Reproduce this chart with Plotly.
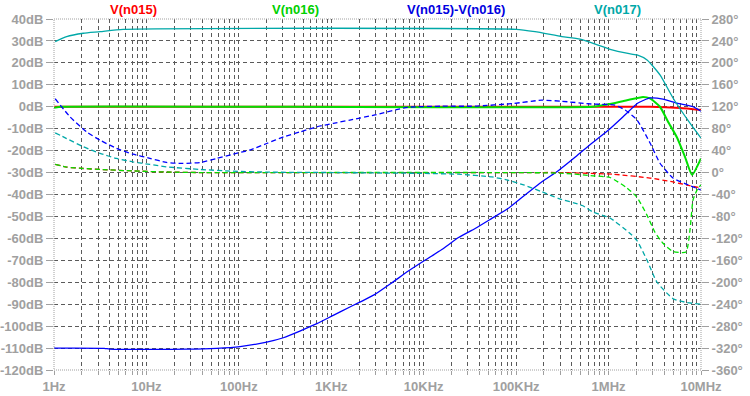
import plotly.graph_objects as go

# ---------------- data ----------------
# V(n015)  red
n015_mag_f = [1, 3.38e5, 2.81e6, 5.93e6, 1e7]
n015_mag = [0, 0, 0, -0.6, -1.5]
n015_ph_f = [1.03, 1.37, 2.08, 3.15, 7.16, 16.5, 38, 1.37e5, 3.0e5, 1.12e6, 2.81e6, 4.98e6, 7.05e6, 1e7]
n015_ph = [15, 10, 7.4, 5.7, 3, 1, 0, 0, 0, -3, -10, -17, -23, -28]

# V(n016)  green
n016_mag_f = [1, 1.22, 6.78e5, 9.62e5, 1.58e6, 2.36e6, 2.81e6, 3.6e6, 4.4e6, 5.5e6, 6.71e6, 8.0e6, 1e7]
n016_mag = [-0.5, 0, 0, 1, 3, 4.5, 3.8, 0, -6.8, -14, -22.8, -31, -23.5]
n016_ph_f = [1.03, 1.37, 2.08, 3.15, 7.16, 16.5, 38, 3.0e5, 6.78e5, 1.04e6, 1.58e6, 2.03e6, 2.61e6,
             3.18e6, 3.88e6, 4.98e6, 6.88e6, 7.6e6, 8.2e6, 9.05e6, 1e7]
n016_ph = [15, 10, 7.4, 5.7, 3, 1, 0, -1, -6, -9, -28, -45, -78,
           -109, -129, -144, -145, -105, -50, -32, -22]

# V(n015)-V(n016)  blue
diff_mag_f = [1, 3.5, 4, 27, 57.5, 103, 200, 303, 457, 698, 1.05e3, 1.59e3, 2.97e3, 4.5e3, 6.82e3,
              1.03e4, 1.57e4, 2.38e4, 3.6e4, 5.4e4, 8.16e4, 1.06e5, 1.9e5, 2.9e5, 4.4e5, 6.55e5,
              1.0e6, 1.5e6, 2.06e6, 2.81e6, 3.88e6, 5.5e6, 8.2e6, 1e7]
diff_mag = [-110, -110.1, -110.5, -110.5, -110.1, -109.3, -107.3, -105.3, -102.3, -98.9, -95.1, -91.3,
            -85.5, -80.3, -74.9, -70, -65.1, -59.6, -55.5, -51, -46.4, -42.6, -34.2, -28.9, -22.8,
            -16.7, -10.6, -3.8, 1.6, 4, 3.5, 1.6, 0, -2]
diff_ph_f = [1.03, 1.49, 2.26, 3.15, 4.76, 7.16, 10.9, 16.5, 24.9, 38, 57.5, 86.6, 131, 200, 303, 457,
             698, 1.05e3, 1.59e3, 2.97e3, 6.7e3, 1.57e4, 3.6e4, 9.4e4, 1.9e5, 3.13e5, 6.55e5, 1.17e6,
             1.51e6, 2.03e6, 2.81e6, 3.6e6, 4.98e6, 6.71e6, 8.2e6, 1e7]
diff_ph = [134.6, 101.7, 74, 59, 44, 33.6, 26, 18.4, 16.6, 18.4, 25.7, 33.6, 41, 53, 65, 74,
           83.5, 89.6, 95.7, 105, 119, 121, 121, 126, 132, 130, 125, 123,
           114, 96, 54, 17, -10, -20, -26, -32]

# V(n017)  cyan
n017_mag_f = [1.03, 1.37, 2.08, 3.15, 5.6, 1.0e5, 1.6e5, 3.13e5, 4.91e5, 1.04e6, 1.57e6, 2.03e6,
              2.61e6, 3.6e6, 4.98e6, 7.6e6, 1e7]
n017_mag = [29.7, 32, 33.5, 34.2, 35.3, 35.3, 34.2, 32, 30.8, 26.2, 24.4, 23.6,
            21.3, 14.5, 4, -7.5, -14.3]
n017_ph_f = [1.03, 1.37, 2.08, 3.15, 4.76, 7.16, 10.9, 16.5, 38, 86.6, 200, 1.05e3, 1.03e4, 2.35e4,
             5.5e4, 8.16e4, 1.23e5, 1.9e5, 2.85e5, 5.2e5, 6.78e5, 1.04e6, 1.71e6, 2.03e6, 2.61e6,
             3.34e6, 4.98e6, 7.05e6, 1e7]
n017_ph = [72.5, 62, 47, 35, 25.7, 19.5, 14.8, 10.4, 5.7, 2.5, 0.8, 0, -1.6, -3,
           -8, -14, -23, -35, -47, -60, -72, -83, -111, -124, -160,
           -200, -230, -237, -240]

trace_names = ["V(n015)", "V(n016)", "V(n015)-V(n016)", "V(n017)"]

x_major = [1, 10, 100, 1e3, 1e4, 1e5, 1e6, 1e7]
x_major_labels = ["1Hz", "10Hz", "100Hz", "1KHz", "10KHz", "100KHz", "1MHz", "10MHz"]
y_ticks = list(range(-120, 41, 10))
y_tick_labels = [f"{v}dB" for v in y_ticks]
y2_ticks = list(range(-360, 281, 40))
y2_tick_labels = [f"{v}°" for v in y2_ticks]

# ---------------- figure ----------------
RED = "#ff0000"
GREEN = "#00e000"
BLUE = "#0000ff"
CYAN = "#00a8a8"
label_colors = ["#ff0000", "#00d000", "#0000e0", "#00a8a8"]

series = [
    (n015_mag_f, n015_mag, n015_ph_f, n015_ph, RED, 2),
    (n016_mag_f, n016_mag, n016_ph_f, n016_ph, GREEN, 2),
    (diff_mag_f, diff_mag, diff_ph_f, diff_ph, BLUE, 1.3),
    (n017_mag_f, n017_mag, n017_ph_f, n017_ph, CYAN, 1.3),
]

fig = go.Figure()
for (mf, mv, pf, pv, col, w), name in zip(series, trace_names):
    fig.add_trace(go.Scatter(x=pf, y=pv, yaxis="y2", mode="lines", name=name + " phase",
                             line=dict(color=col, width=1.3, dash="5px,3px", shape="spline", smoothing=0.5),
                             showlegend=False))
    fig.add_trace(go.Scatter(x=mf, y=mv, mode="lines", name=name,
                             line=dict(color=col, width=w, shape="spline", smoothing=0.5),
                             showlegend=False))

# x grid values: every 1..9 per decade
x_grid = []
x_text = []
for d in range(7):
    for k in range(1, 10):
        v = k * 10 ** d
        x_grid.append(v)
        x_text.append(x_major_labels[d] if k == 1 else "")
x_grid.append(1e7)
x_text.append(x_major_labels[7])

GRID = "#5a5a5a"
TXT = "#a0a0a0"
tickfont = dict(family="Liberation Sans", size=13, color=TXT, weight="bold")

fig.update_layout(
    template="none",
    width=750, height=396,
    margin=dict(l=54, r=49, t=19, b=26, pad=0),
    paper_bgcolor="white", plot_bgcolor="white",
    showlegend=False,
    xaxis=dict(type="log", range=[0, 7], tickvals=x_grid, ticktext=x_text, automargin=False,
               showgrid=True, gridcolor=GRID, griddash="4px,3px", gridwidth=1,
               ticks="outside", ticklen=4, tickcolor=TXT, tickfont=tickfont,
               zeroline=False, showline=False),
    yaxis=dict(range=[-120, 40], tickvals=y_ticks, ticktext=y_tick_labels, automargin=False,
               showgrid=True, gridcolor=GRID, griddash="4px,3px", gridwidth=1,
               ticks="outside", ticklen=7, tickcolor=TXT, tickfont=tickfont,
               zeroline=False, showline=False),
    yaxis2=dict(range=[-360, 280], tickvals=y2_ticks, ticktext=y2_tick_labels, automargin=False,
                overlaying="y", side="right", showgrid=False,
                ticks="outside", ticklen=7, tickcolor=TXT, tickfont=tickfont,
                zeroline=False, showline=False),
)

# dotted frame around plot area
fig.add_shape(type="rect", xref="paper", yref="paper", x0=0, x1=1, y0=0, y1=1,
              line=dict(color="#a0a0a0", width=1, dash="1px,1px"), layer="above")

# trace labels above plot
label_x = [133, 295, 456, 617]
for name, col, px in zip(trace_names, label_colors, label_x):
    fig.add_annotation(text=name, xref="paper", yref="paper",
                       x=(px - 54) / 647, y=1 + 10 / 351, showarrow=False,
                       xanchor="center", yanchor="middle",
                       font=dict(family="Liberation Sans", size=13, color=col, weight="bold"))

fig.write_html("out.html",
               config={"displayModeBar": False},
               post_script="document.body.style.margin='0';document.body.style.overflow='hidden';")
